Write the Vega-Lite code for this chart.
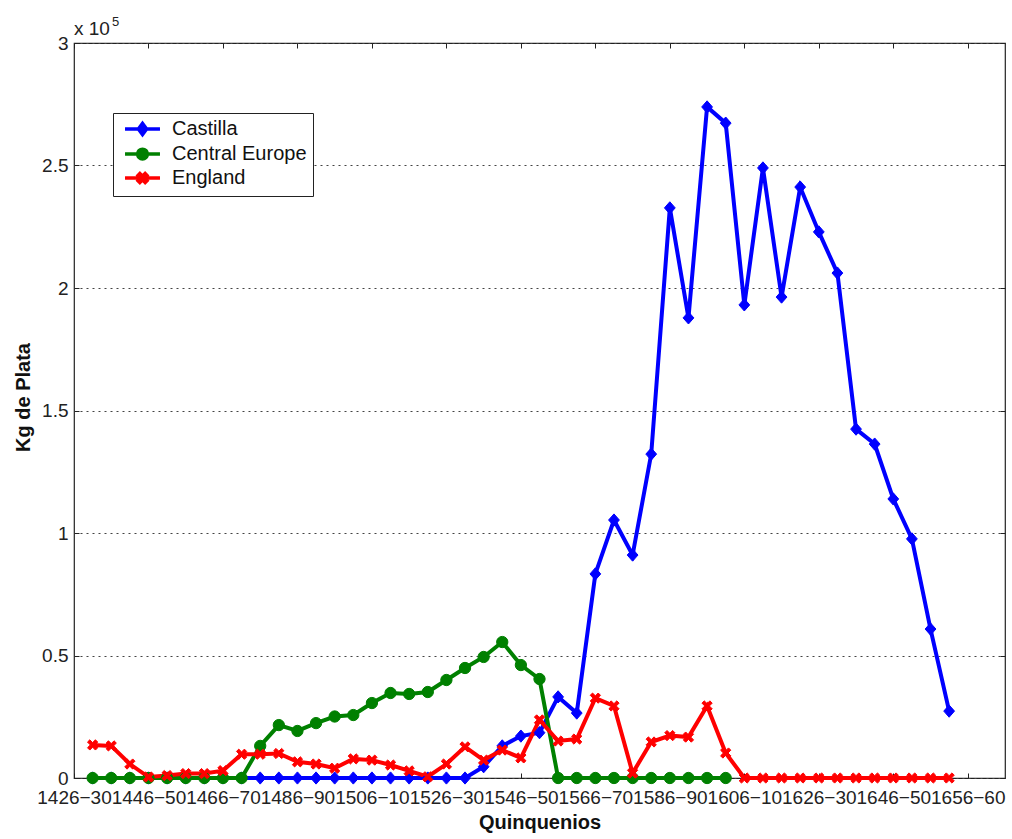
{
  "$schema": "https://vega.github.io/schema/vega-lite/v6.json",
  "width": 931,
  "height": 735,
  "autosize": "none",
  "padding": {"left": 74, "top": 43, "right": 7, "bottom": 61},
  "background": "white",
  "config": {
    "font": "Liberation Sans",
    "view": {"stroke": "#222", "strokeWidth": 1.2},
    "axis": {"labelColor": "#222", "titleColor": "#111", "tickColor": "#222", "tickWidth": 1},
    "legend": {
      "orient": "none",
      "legendX": 39,
      "legendY": 70,
      "title": null,
      "strokeColor": "#222",
      "fillColor": "white",
      "padding": 6,
      "labelFontSize": 20,
      "labelColor": "#111",
      "labelOffset": 33,
      "symbolSize": 225,
      "symbolStrokeWidth": 3.5,
      "rowPadding": 0
    }
  },
  "data": {
    "values": [
      {"q": 1, "s": "Castilla", "kg": 0}, {"q": 2, "s": "Castilla", "kg": 0}, {"q": 3, "s": "Castilla", "kg": 0},
      {"q": 4, "s": "Castilla", "kg": 0}, {"q": 5, "s": "Castilla", "kg": 0}, {"q": 6, "s": "Castilla", "kg": 0},
      {"q": 7, "s": "Castilla", "kg": 0}, {"q": 8, "s": "Castilla", "kg": 0}, {"q": 9, "s": "Castilla", "kg": 0},
      {"q": 10, "s": "Castilla", "kg": 0}, {"q": 11, "s": "Castilla", "kg": 0}, {"q": 12, "s": "Castilla", "kg": 0},
      {"q": 13, "s": "Castilla", "kg": 0}, {"q": 14, "s": "Castilla", "kg": 0}, {"q": 15, "s": "Castilla", "kg": 0},
      {"q": 16, "s": "Castilla", "kg": 0}, {"q": 17, "s": "Castilla", "kg": 0}, {"q": 18, "s": "Castilla", "kg": 0},
      {"q": 19, "s": "Castilla", "kg": 0}, {"q": 20, "s": "Castilla", "kg": 0}, {"q": 21, "s": "Castilla", "kg": 0},
      {"q": 22, "s": "Castilla", "kg": 4600}, {"q": 23, "s": "Castilla", "kg": 13100}, {"q": 24, "s": "Castilla", "kg": 17100},
      {"q": 25, "s": "Castilla", "kg": 18500}, {"q": 26, "s": "Castilla", "kg": 33100}, {"q": 27, "s": "Castilla", "kg": 26500},
      {"q": 28, "s": "Castilla", "kg": 83300}, {"q": 29, "s": "Castilla", "kg": 105300}, {"q": 30, "s": "Castilla", "kg": 91000},
      {"q": 31, "s": "Castilla", "kg": 132200}, {"q": 32, "s": "Castilla", "kg": 232700}, {"q": 33, "s": "Castilla", "kg": 187800},
      {"q": 34, "s": "Castilla", "kg": 273900}, {"q": 35, "s": "Castilla", "kg": 267300}, {"q": 36, "s": "Castilla", "kg": 193100},
      {"q": 37, "s": "Castilla", "kg": 249000}, {"q": 38, "s": "Castilla", "kg": 196300}, {"q": 39, "s": "Castilla", "kg": 241200},
      {"q": 40, "s": "Castilla", "kg": 222900}, {"q": 41, "s": "Castilla", "kg": 206100}, {"q": 42, "s": "Castilla", "kg": 142400},
      {"q": 43, "s": "Castilla", "kg": 136300}, {"q": 44, "s": "Castilla", "kg": 113900}, {"q": 45, "s": "Castilla", "kg": 97600},
      {"q": 46, "s": "Castilla", "kg": 60800}, {"q": 47, "s": "Castilla", "kg": 27300},

      {"q": 1, "s": "Central Europe", "kg": 0}, {"q": 2, "s": "Central Europe", "kg": 0}, {"q": 3, "s": "Central Europe", "kg": 0},
      {"q": 4, "s": "Central Europe", "kg": 0}, {"q": 5, "s": "Central Europe", "kg": 0}, {"q": 6, "s": "Central Europe", "kg": 0},
      {"q": 7, "s": "Central Europe", "kg": 0}, {"q": 8, "s": "Central Europe", "kg": 0}, {"q": 9, "s": "Central Europe", "kg": 0},
      {"q": 10, "s": "Central Europe", "kg": 13100}, {"q": 11, "s": "Central Europe", "kg": 21600}, {"q": 12, "s": "Central Europe", "kg": 19200},
      {"q": 13, "s": "Central Europe", "kg": 22400}, {"q": 14, "s": "Central Europe", "kg": 25100}, {"q": 15, "s": "Central Europe", "kg": 25700},
      {"q": 16, "s": "Central Europe", "kg": 30600}, {"q": 17, "s": "Central Europe", "kg": 34700}, {"q": 18, "s": "Central Europe", "kg": 34300},
      {"q": 19, "s": "Central Europe", "kg": 35100}, {"q": 20, "s": "Central Europe", "kg": 40000}, {"q": 21, "s": "Central Europe", "kg": 44900},
      {"q": 22, "s": "Central Europe", "kg": 49400}, {"q": 23, "s": "Central Europe", "kg": 55500}, {"q": 24, "s": "Central Europe", "kg": 46100},
      {"q": 25, "s": "Central Europe", "kg": 40400}, {"q": 26, "s": "Central Europe", "kg": 0}, {"q": 27, "s": "Central Europe", "kg": 0},
      {"q": 28, "s": "Central Europe", "kg": 0}, {"q": 29, "s": "Central Europe", "kg": 0}, {"q": 30, "s": "Central Europe", "kg": 0},
      {"q": 31, "s": "Central Europe", "kg": 0}, {"q": 32, "s": "Central Europe", "kg": 0}, {"q": 33, "s": "Central Europe", "kg": 0},
      {"q": 34, "s": "Central Europe", "kg": 0}, {"q": 35, "s": "Central Europe", "kg": 0},

      {"q": 1, "s": "England", "kg": 13500}, {"q": 2, "s": "England", "kg": 13100}, {"q": 3, "s": "England", "kg": 5700},
      {"q": 4, "s": "England", "kg": 400}, {"q": 5, "s": "England", "kg": 1000}, {"q": 6, "s": "England", "kg": 1800},
      {"q": 7, "s": "England", "kg": 1800}, {"q": 8, "s": "England", "kg": 3000}, {"q": 9, "s": "England", "kg": 9700},
      {"q": 10, "s": "England", "kg": 9700}, {"q": 11, "s": "England", "kg": 10000}, {"q": 12, "s": "England", "kg": 6600},
      {"q": 13, "s": "England", "kg": 5700}, {"q": 14, "s": "England", "kg": 4000}, {"q": 15, "s": "England", "kg": 7800},
      {"q": 16, "s": "England", "kg": 7300}, {"q": 17, "s": "England", "kg": 5300}, {"q": 18, "s": "England", "kg": 2900},
      {"q": 19, "s": "England", "kg": 500}, {"q": 20, "s": "England", "kg": 5700}, {"q": 21, "s": "England", "kg": 12700},
      {"q": 22, "s": "England", "kg": 7300}, {"q": 23, "s": "England", "kg": 11400}, {"q": 24, "s": "England", "kg": 8200},
      {"q": 25, "s": "England", "kg": 23700}, {"q": 26, "s": "England", "kg": 15100}, {"q": 27, "s": "England", "kg": 15900},
      {"q": 28, "s": "England", "kg": 32600}, {"q": 29, "s": "England", "kg": 29400}, {"q": 30, "s": "England", "kg": 2000},
      {"q": 31, "s": "England", "kg": 14700}, {"q": 32, "s": "England", "kg": 17300}, {"q": 33, "s": "England", "kg": 16700},
      {"q": 34, "s": "England", "kg": 29400}, {"q": 35, "s": "England", "kg": 10200}, {"q": 36, "s": "England", "kg": 0},
      {"q": 37, "s": "England", "kg": 0}, {"q": 38, "s": "England", "kg": 0}, {"q": 39, "s": "England", "kg": 0},
      {"q": 40, "s": "England", "kg": 0}, {"q": 41, "s": "England", "kg": 0}, {"q": 42, "s": "England", "kg": 0},
      {"q": 43, "s": "England", "kg": 0}, {"q": 44, "s": "England", "kg": 0}, {"q": 45, "s": "England", "kg": 0},
      {"q": 46, "s": "England", "kg": 0}, {"q": 47, "s": "England", "kg": 0}
    ]
  },
  "layer": [
    {
      "mark": {"type": "line", "strokeWidth": 4},
      "encoding": {
        "x": {
          "field": "q", "type": "quantitative",
          "scale": {"domain": [0, 50], "nice": false, "zero": false},
          "axis": {
            "orient": "bottom",
            "values": [0, 4, 8, 12, 16, 20, 24, 28, 32, 36, 40, 44, 48],
            "labelExpr": "['1426−30','1446−50','1466−70','1486−90','1506−10','1526−30','1546−50','1566−70','1586−90','1606−10','1626−30','1646−50','1656−60'][round(datum.value/4)]",
            "title": "Quinquenios",
            "grid": false, "domain": false,
            "tickSize": -5, "labelPadding": 15,
            "labelFontSize": 19, "labelOverlap": false, "labelFlush": false,
            "titleFontSize": 20, "titleFontWeight": "bold", "titlePadding": 5
          }
        },
        "y": {
          "field": "kg", "type": "quantitative",
          "scale": {"domain": [0, 300000], "nice": false},
          "axis": {
            "values": [0, 50000, 100000, 150000, 200000, 250000, 300000],
            "labelExpr": "datum.value/100000 + ''",
            "title": "Kg de Plata",
            "grid": true, "gridDash": [2, 4], "gridColor": "#444", "gridWidth": 1,
            "domain": false, "tickSize": -5, "labelPadding": 11,
            "labelFontSize": 19, "labelFlush": false,
            "titleFontSize": 20, "titleFontWeight": "bold", "titlePadding": 8, "titleY": 354
          }
        },
        "color": {
          "field": "s", "type": "nominal",
          "scale": {"domain": ["Castilla", "Central Europe", "England"], "range": ["#0000ff", "#008000", "#ff0000"]},
          "legend": null
        }
      }
    },
    {
      "mark": {"type": "point", "filled": true, "opacity": 1},
      "encoding": {
        "x": {"field": "q", "type": "quantitative", "axis": null},
        "y": {"field": "kg", "type": "quantitative", "axis": null},
        "fill": {
          "field": "s", "type": "nominal",
          "scale": {"domain": ["Castilla", "Central Europe", "England"], "range": ["#0000ff", "#008000", "#ff0000"]},
          "legend": null
        },
        "stroke": {
          "field": "s", "type": "nominal",
          "scale": {"domain": ["Castilla", "Central Europe", "England"], "range": ["#0000ff", "#008000", "#ff0000"]},
          "legend": null
        },
        "shape": {
          "field": "s", "type": "nominal",
          "scale": {
            "domain": ["Castilla", "Central Europe", "England"],
            "range": [
              "M-0.88,0L0,-1L0.88,0L0,1Z",
              "circle",
              "M-1,-0.55L-0.55,-1L0,-0.45L0.55,-1L1,-0.55L0.45,0L1,0.55L0.55,1L0,0.45L-0.55,1L-1,0.55L-0.45,0Z"
            ]
          },
          "legend": null
        },
        "size": {
          "field": "s", "type": "nominal",
          "scale": {"domain": ["Castilla", "Central Europe", "England"], "range": [150, 105, 110]},
          "legend": null
        },
        "strokeWidth": {
          "field": "s", "type": "nominal",
          "scale": {"domain": ["Castilla", "Central Europe", "England"], "range": [1, 1, 1.5]},
          "legend": null
        }
      }
    },
    {
      "transform": [{"filter": "datum.q < 0"}],
      "mark": {"type": "point", "filled": true, "opacity": 1},
      "encoding": {
        "x": {
          "field": "q", "type": "quantitative",
          "axis": {"orient": "top", "values": [0, 4, 8, 12, 16, 20, 24, 28, 32, 36, 40, 44, 48], "labels": false, "domain": false, "grid": false, "tickSize": -5, "title": null}
        },
        "y": {
          "field": "kg", "type": "quantitative",
          "axis": {"orient": "right", "values": [0, 50000, 100000, 150000, 200000, 250000, 300000], "labels": false, "domain": false, "grid": false, "tickSize": -5, "title": null}
        },
        "fill": {
          "field": "s", "type": "nominal",
          "scale": {"domain": ["Castilla", "Central Europe", "England"], "range": ["#0000ff", "#008000", "#ff0000"]}
        },
        "stroke": {
          "field": "s", "type": "nominal",
          "scale": {"domain": ["Castilla", "Central Europe", "England"], "range": ["#0000ff", "#008000", "#ff0000"]}
        },
        "shape": {
          "field": "s", "type": "nominal",
          "scale": {
            "domain": ["Castilla", "Central Europe", "England"],
            "range": [
              "M-0.53,0H4.13M1.25,0L1.8,-0.75L2.35,0L1.8,0.75Z",
              "M-0.53,0H4.13M2.45,0A0.65,0.65,0,1,1,1.15,0A0.65,0.65,0,1,1,2.45,0Z",
              "M-0.53,0H4.13M1.2,-0.35L1.45,-0.6L1.8,-0.25L2.15,-0.6L2.4,-0.35L2.05,0L2.4,0.35L2.15,0.6L1.8,0.25L1.45,0.6L1.2,0.35L1.55,0Z"
            ]
          }
        }
      }
    },
    {
      "data": {"values": [{"t": "x 10"}]},
      "mark": {"type": "text", "align": "left", "baseline": "alphabetic", "dy": -8, "fontSize": 19, "color": "#222"},
      "encoding": {
        "x": {"datum": 0, "type": "quantitative", "axis": null},
        "y": {"datum": 300000, "type": "quantitative", "axis": null},
        "text": {"field": "t"}
      }
    },
    {
      "data": {"values": [{"t": "5"}]},
      "mark": {"type": "text", "align": "left", "baseline": "alphabetic", "dx": 38, "dy": -17, "fontSize": 13, "color": "#222"},
      "encoding": {
        "x": {"datum": 0, "type": "quantitative", "axis": null},
        "y": {"datum": 300000, "type": "quantitative", "axis": null},
        "text": {"field": "t"}
      }
    }
  ],
  "resolve": {
    "scale": {"shape": "independent", "fill": "independent", "stroke": "independent"},
    "legend": {"shape": "independent", "fill": "independent", "stroke": "independent"},
    "axis": {"x": "independent", "y": "independent"}
  }
}
